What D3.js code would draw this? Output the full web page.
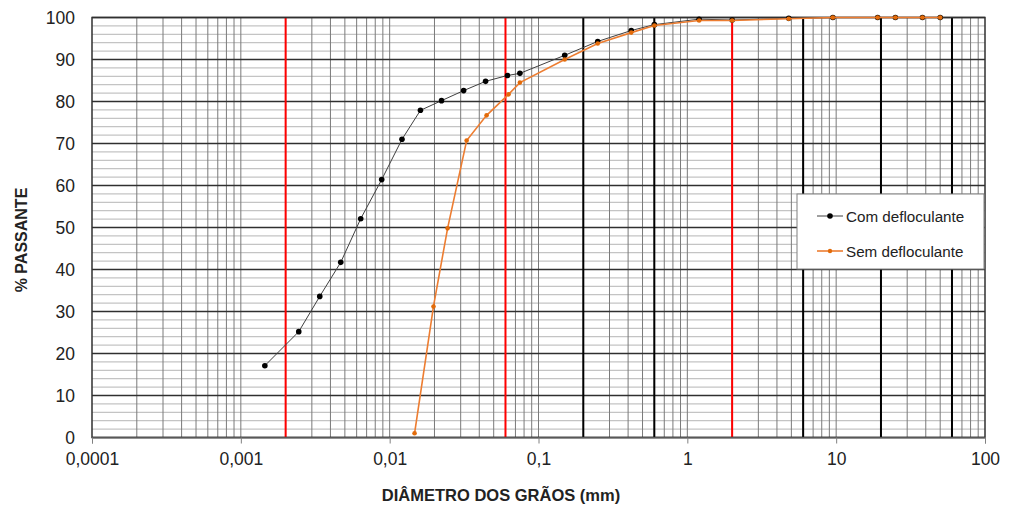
<!DOCTYPE html>
<html><head><meta charset="utf-8">
<script src="https://cdn.jsdelivr.net/npm/d3@7"></script>
<style>body{margin:0;background:#fff;} text{font-family:"Liberation Sans",Arial,sans-serif;}</style>
</head><body><svg id="c" width="1009" height="508"></svg>
<script>
const comDiam = [50, 38, 25, 19, 9.5, 4.8, 2.0, 1.2, 0.6, 0.42, 0.25, 0.15, 0.075, 0.0619, 0.0441, 0.0314, 0.0223, 0.0161, 0.0121, 0.00884, 0.00639, 0.00469, 0.00339, 0.00245, 0.00145];
const comPass = [100, 100, 100, 100, 100, 99.8, 99.4, 99.6, 98.3, 96.9, 94.3, 91.0, 86.7, 86.2, 84.8, 82.6, 80.2, 77.9, 71.0, 61.4, 52.1, 41.7, 33.6, 25.2, 17.1];
const semDiam = [50, 38, 25, 19, 9.5, 4.8, 2.0, 1.2, 0.6, 0.42, 0.25, 0.15, 0.075, 0.0629, 0.0448, 0.0329, 0.0245, 0.0197, 0.0147];
const semPass = [100, 100, 100, 100, 100, 99.7, 99.3, 99.3, 98.1, 96.4, 93.8, 90.0, 84.5, 81.7, 76.7, 70.7, 49.8, 31.2, 1.0];
const seriesNames = ["Com defloculante", "Sem defloculante"];
const xTickValues = [0.0001, 0.001, 0.01, 0.1, 1, 10, 100];
const xTickLabels = ["0,0001", "0,001", "0,01", "0,1", "1", "10", "100"];
const yTickValues = [0, 10, 20, 30, 40, 50, 60, 70, 80, 90, 100];
const redLines = [0.002, 0.06, 2];
const blackLines = [0.2, 0.6, 6, 20, 60];

const svg = d3.select("#c");
const L = 92, R = 985, T = 17.5, B = 437.5;
const x = d3.scaleLog().domain([0.0001, 100]).range([L, R]);
const y = d3.scaleLinear().domain([0, 100]).range([B, T]);

const g = svg.append("g");
for (let v = 2; v < 100; v += 2) {
  if (v % 10 === 0) continue;
  g.append("line").attr("x1", L).attr("x2", R).attr("y1", y(v)).attr("y2", y(v))
    .attr("stroke", "#c4c4c4").attr("stroke-width", 1.3);
}
const minors = [];
for (let e = -4; e < 2; e++) for (let m = 1; m <= 9; m++) { if (e === -4 && m === 1) continue; minors.push(m * Math.pow(10, e)); }
minors.forEach(v => {
  g.append("line").attr("x1", x(v)).attr("x2", x(v)).attr("y1", T).attr("y2", B)
    .attr("stroke", "#7a7a7a").attr("stroke-width", 1);
});
yTickValues.forEach(v => {
  g.append("line").attr("x1", L).attr("x2", R).attr("y1", y(v)).attr("y2", y(v))
    .attr("stroke", "#303030").attr("stroke-width", 1.3);
});
blackLines.forEach(v => {
  g.append("line").attr("x1", x(v)).attr("x2", x(v)).attr("y1", T).attr("y2", B)
    .attr("stroke", "#000").attr("stroke-width", 2);
});
redLines.forEach(v => {
  g.append("line").attr("x1", x(v)).attr("x2", x(v)).attr("y1", T).attr("y2", B)
    .attr("stroke", "#ff0000").attr("stroke-width", 2);
});
g.append("rect").attr("x", L).attr("y", T).attr("width", R - L).attr("height", B - T)
  .attr("fill", "none").attr("stroke", "#303030").attr("stroke-width", 1.5);

const xAxis = d3.axisBottom(x).tickValues(xTickValues).tickSize(6).tickPadding(9)
  .tickFormat((d, i) => xTickLabels[i]);
const xa = svg.append("g").attr("transform", `translate(0,${B})`).call(xAxis);
xa.select(".domain").attr("stroke", "#808080");
xa.selectAll(".tick line").attr("stroke", "#808080");
xa.selectAll("text").attr("font-size", 17.5).attr("fill", "#222").attr("font-family", "Liberation Sans, Arial, sans-serif");

const yAxis = d3.axisLeft(y).tickValues(yTickValues).tickSize(0).tickPadding(17);
const ya = svg.append("g").attr("transform", `translate(${L},0)`).call(yAxis);
ya.select(".domain").remove();
ya.selectAll("text").attr("font-size", 17.5).attr("fill", "#222").attr("font-family", "Liberation Sans, Arial, sans-serif");

svg.append("text").attr("x", 501).attr("y", 501).attr("text-anchor", "middle")
  .attr("font-size", 16.5).attr("font-weight", "bold").attr("fill", "#222").text("DIÂMETRO DOS GRÃOS (mm)");
svg.append("text").attr("transform", "translate(27,240) rotate(-90)").attr("text-anchor", "middle")
  .attr("font-size", 16).attr("font-weight", "bold").attr("fill", "#222").text("% PASSANTE");

const line = d3.line().x(d => x(d[0])).y(d => y(d[1]));
const com = comDiam.map((d, i) => [d, comPass[i]]);
const sem = semDiam.map((d, i) => [d, semPass[i]]);
svg.append("path").datum(com).attr("d", line).attr("fill", "none").attr("stroke", "#404040").attr("stroke-width", 1);
svg.selectAll(".cp").data(com).enter().append("circle").attr("cx", d => x(d[0])).attr("cy", d => y(d[1])).attr("r", 2.8).attr("fill", "#000");
svg.append("path").datum(sem).attr("d", line).attr("fill", "none").attr("stroke", "#ED7D31").attr("stroke-width", 1.6);
svg.selectAll(".sp").data(sem).enter().append("circle").attr("cx", d => x(d[0])).attr("cy", d => y(d[1])).attr("r", 2.3).attr("fill", "#E26B0A");

const lg = svg.append("g");
lg.append("rect").attr("x", 797).attr("y", 194).attr("width", 187).attr("height", 75).attr("fill", "#fff").attr("stroke", "#808080").attr("stroke-width", 1);
const legY = [216, 251];
const legCol = ["#404040", "#ED7D31"];
const legDot = ["#000", "#E26B0A"];
seriesNames.forEach((n, i) => {
  lg.append("line").attr("x1", 817).attr("x2", 843).attr("y1", legY[i]).attr("y2", legY[i]).attr("stroke", legCol[i]).attr("stroke-width", i ? 1.6 : 1);
  lg.append("circle").attr("cx", 830).attr("cy", legY[i]).attr("r", i ? 2.2 : 2.8).attr("fill", legDot[i]);
  lg.append("text").attr("x", 846).attr("y", legY[i] + 5.5).attr("font-size", 15.2).attr("fill", "#222").text(n);
});
</script></body></html>
